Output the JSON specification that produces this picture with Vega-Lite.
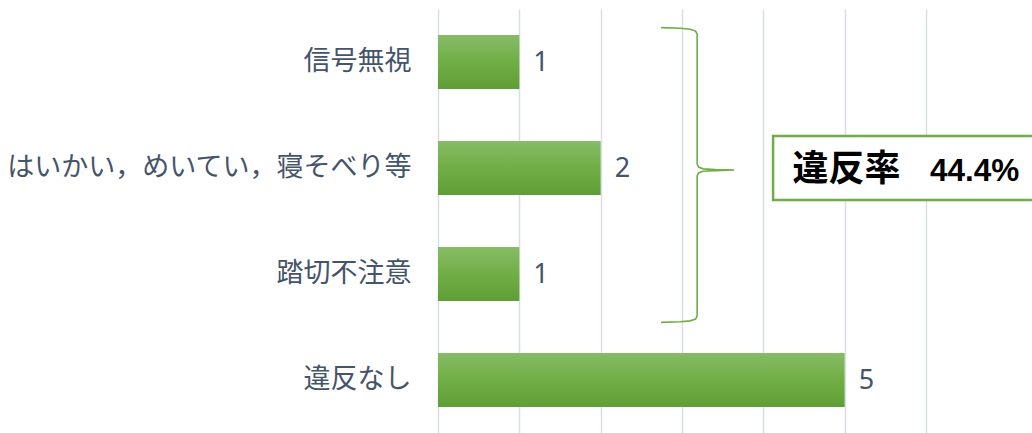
{
  "$schema": "https://vega.github.io/schema/vega-lite/v6.json",
  "width": 488,
  "height": 424,
  "autosize": {"type": "none"},
  "padding": {"left": 438, "top": 9, "right": 106, "bottom": 0},
  "background": "white",
  "config": {"view": {"stroke": null}},
  "datasets": {
    "bars": [
      {"category": "信号無視", "count": 1},
      {"category": "はいかい，めいてい，寝そべり等", "count": 2},
      {"category": "踏切不注意", "count": 1},
      {"category": "違反なし", "count": 5}
    ],
    "brace": [
      {"i": 1, "x": 2.743, "y": 0.176},
      {"i": 2, "x": 2.977, "y": 0.181},
      {"i": 3, "x": 3.1, "y": 0.191},
      {"i": 4, "x": 3.167, "y": 0.208},
      {"i": 5, "x": 3.186, "y": 0.236},
      {"i": 6, "x": 3.186, "y": 1.462},
      {"i": 7, "x": 3.204, "y": 1.491},
      {"i": 8, "x": 3.26, "y": 1.508},
      {"i": 9, "x": 3.407, "y": 1.515},
      {"i": 10, "x": 3.641, "y": 1.519},
      {"i": 11, "x": 3.407, "y": 1.525},
      {"i": 12, "x": 3.26, "y": 1.531},
      {"i": 13, "x": 3.204, "y": 1.547},
      {"i": 14, "x": 3.186, "y": 1.575},
      {"i": 15, "x": 3.186, "y": 2.896},
      {"i": 16, "x": 3.167, "y": 2.925},
      {"i": 17, "x": 3.1, "y": 2.942},
      {"i": 18, "x": 2.977, "y": 2.951},
      {"i": 19, "x": 2.743, "y": 2.956}
    ],
    "box": [{"x": 4.12, "x2": 7.5, "y": 1.198, "y2": 1.802}],
    "note": [
      {"label": "違反率", "x": 4.36, "y": 1.52, "part": "a"},
      {"label": "44.4%", "x": 6.05, "y": 1.52, "part": "b"}
    ]
  },
  "layer": [
    {
      "data": {"name": "bars"},
      "encoding": {
        "y": {
          "field": "category",
          "type": "nominal",
          "sort": null,
          "scale": {"paddingInner": 0.49, "paddingOuter": 0.245},
          "axis": {
            "title": null,
            "ticks": false,
            "domain": false,
            "labelFont": "Noto Sans CJK JP",
            "labelFontSize": 27,
            "labelColor": "#44546A",
            "labelPadding": 27,
            "labelLimit": 600
          }
        },
        "x": {
          "field": "count",
          "type": "quantitative",
          "scale": {"domain": [0, 6], "nice": false},
          "axis": {
            "title": null,
            "labels": false,
            "ticks": false,
            "domain": false,
            "values": [0, 1, 2, 3, 4, 5, 6],
            "grid": true,
            "gridColor": "#D9DEE6",
            "gridWidth": 1.5
          }
        }
      },
      "layer": [
        {
          "mark": {
            "type": "bar",
            "color": {
              "gradient": "linear",
              "x1": 0, "y1": 0, "x2": 0, "y2": 1,
              "stops": [
                {"offset": 0, "color": "#86BC66"},
                {"offset": 0.5, "color": "#71AE45"},
                {"offset": 1, "color": "#5F9E36"}
              ]
            }
          }
        },
        {
          "mark": {
            "type": "text",
            "align": "left",
            "baseline": "middle",
            "dx": 14,
            "dy": 1,
            "font": "Noto Sans",
            "fontSize": 27,
            "color": "#44546A"
          },
          "encoding": {"text": {"field": "count", "type": "quantitative"}}
        }
      ]
    },
    {
      "layer": [
        {
          "data": {"name": "brace"},
          "mark": {"type": "line", "color": "#70AD47", "strokeWidth": 1.6, "interpolate": "linear"},
          "encoding": {
            "x": {"field": "x", "type": "quantitative", "scale": {"domain": [0, 6], "nice": false}},
            "y": {"field": "y", "type": "quantitative", "scale": {"domain": [0, 4], "reverse": true, "nice": false}, "axis": null},
            "order": {"field": "i", "type": "quantitative"}
          }
        },
        {
          "data": {"name": "box"},
          "mark": {"type": "rect", "fill": "white", "stroke": "#70AD47", "strokeWidth": 2.5},
          "encoding": {
            "x": {"field": "x", "type": "quantitative", "scale": {"domain": [0, 6], "nice": false}},
            "x2": {"field": "x2"},
            "y": {"field": "y", "type": "quantitative", "scale": {"domain": [0, 4], "reverse": true, "nice": false}, "axis": null},
            "y2": {"field": "y2"}
          }
        },
        {
          "data": {"name": "note"},
          "transform": [{"filter": "datum.part === 'a'"}],
          "mark": {"type": "text", "align": "left", "baseline": "middle", "font": "Noto Sans CJK JP", "fontWeight": "bold", "fontSize": 36, "color": "black"},
          "encoding": {
            "x": {"field": "x", "type": "quantitative", "scale": {"domain": [0, 6], "nice": false}},
            "y": {"field": "y", "type": "quantitative", "scale": {"domain": [0, 4], "reverse": true, "nice": false}, "axis": null},
            "text": {"field": "label"}
          }
        },
        {
          "data": {"name": "note"},
          "transform": [{"filter": "datum.part === 'b'"}],
          "mark": {"type": "text", "align": "left", "baseline": "middle", "font": "Liberation Sans", "fontWeight": "bold", "fontSize": 31.5, "color": "black", "dy": 2},
          "encoding": {
            "x": {"field": "x", "type": "quantitative", "scale": {"domain": [0, 6], "nice": false}},
            "y": {"field": "y", "type": "quantitative", "scale": {"domain": [0, 4], "reverse": true, "nice": false}, "axis": null},
            "text": {"field": "label"}
          }
        }
      ]
    }
  ],
  "resolve": {"scale": {"y": "independent"}, "axis": {"y": "independent"}}
}
